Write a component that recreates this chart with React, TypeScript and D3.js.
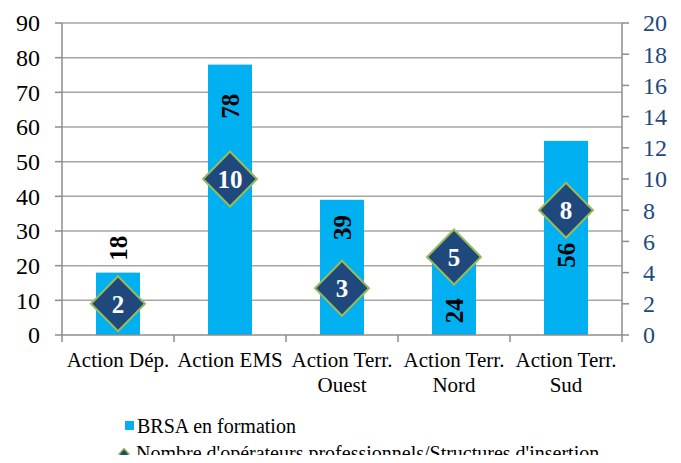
import React from 'react';
import * as d3 from 'd3';

// chart data
const categories = [['Action Dép.'], ['Action EMS'], ['Action Terr.', 'Ouest'], ['Action Terr.', 'Nord'], ['Action Terr.', 'Sud']];
const brsa = [18, 78, 39, 24, 56];
const operateurs = [2, 10, 3, 5, 8];
// where each bar's value label sits, in left-axis units
const labelAt = [25, 66, 31, 7, 23];
const leftTicks = [0, 10, 20, 30, 40, 50, 60, 70, 80, 90];
const rightTicks = [0, 2, 4, 6, 8, 10, 12, 14, 16, 18, 20];
const legendLabels = ['BRSA en formation', "Nombre d'opérateurs professionnels/Structures d'insertion"];

const W = 681;
const H = 463;

function Txt({ x, y, size, anchor = 'start', weight = 'normal', fill = '#000', children }: any) {
  return (
    <text x={x} y={y} fontSize={size} fontWeight={weight} fill={fill} textAnchor={anchor} dy="0.35em">
      {children}
    </text>
  );
}

export default function App() {
  const left = 62, right = 622, top = 23, bottom = 335;

  const x = d3.scaleBand<number>()
    .domain(d3.range(categories.length))
    .range([left, right])
    .paddingInner(0.607)
    .paddingOuter(0.3035);
  const step = (right - left) / categories.length;
  const yL = d3.scaleLinear().domain([0, 90]).range([bottom, top]);
  const yR = d3.scaleLinear().domain([0, 20]).range([bottom, top]);

  const grid = '#a6a6a6';
  const axis = '#8c8c8c';
  const blue = '#00b0f0';
  const navy = '#1f497d';
  const green = '#9bbb59';

  const diamond = (cx: number, cy: number, rx: number, ry: number) =>
    `M${cx},${cy - ry}L${cx + rx},${cy}L${cx},${cy + ry}L${cx - rx},${cy}Z`;

  return (
    <div style={{ margin: -8 }}>
      <svg width={W} height={H} fontFamily="Times New Roman" style={{ display: 'block' }}>
        {/* gridlines */}
        {leftTicks.filter(t => t > 0).map(t => (
          <line key={'g' + t} x1={left} x2={right} y1={yL(t)} y2={yL(t)} stroke={grid} strokeWidth={1.5} />
        ))}

        {/* bars */}
        {brsa.map((v, i) => (
          <rect key={'b' + i} x={x(i)} y={yL(v)} width={x.bandwidth()} height={bottom - yL(v)} fill={blue} />
        ))}

        {/* axes */}
        <line x1={left} x2={left} y1={top} y2={bottom} stroke={axis} strokeWidth={1.5} />
        <line x1={right} x2={right} y1={top} y2={bottom} stroke={axis} strokeWidth={1.5} />
        <line x1={left} x2={right} y1={bottom} y2={bottom} stroke={axis} strokeWidth={1.5} />
        {leftTicks.map(t => (
          <g key={'lt' + t}>
            <line x1={left - 7} x2={left} y1={yL(t)} y2={yL(t)} stroke={axis} strokeWidth={1.5} />
            <Txt x={40} y={yL(t)} size={24} anchor="end">{t}</Txt>
          </g>
        ))}
        {rightTicks.map(t => (
          <g key={'rt' + t}>
            <line x1={right} x2={right + 7} y1={yR(t)} y2={yR(t)} stroke={axis} strokeWidth={1.5} />
            <Txt x={643} y={yR(t)} size={24} fill={navy}>{t}</Txt>
          </g>
        ))}
        {d3.range(categories.length + 1).map(i => (
          <line key={'xt' + i} x1={left + i * step} x2={left + i * step} y1={bottom} y2={bottom + 7} stroke={axis} strokeWidth={1.5} />
        ))}

        {/* category labels */}
        {categories.map((lines, i) => (
          <g key={'c' + i}>
            {lines.map((l, j) => (
              <Txt key={j} x={x(i)! + x.bandwidth() / 2} y={360 + j * 25} size={21} anchor="middle">{l}</Txt>
            ))}
          </g>
        ))}

        {/* bar value labels */}
        {brsa.map((v, i) => {
          const cx = x(i)! + x.bandwidth() / 2;
          const cy = yL(labelAt[i]);
          return (
            <text key={'bl' + i} transform={`translate(${cx},${cy}) rotate(-90)`} fontSize={25}
              fontWeight="bold" textAnchor="middle" dy="0.35em">
              {v}
            </text>
          );
        })}

        {/* diamonds */}
        {operateurs.map((v, i) => {
          const cx = x(i)! + x.bandwidth() / 2;
          const cy = yR(v);
          return (
            <g key={'d' + i}>
              <path d={diamond(cx, cy, 27, 27.5)} fill={navy} stroke={green} strokeWidth={2} />
              <Txt x={cx} y={cy} size={25} weight="bold" anchor="middle" fill="#fff">{v}</Txt>
            </g>
          );
        })}

        {/* legend */}
        <rect x={125} y={421} width={9} height={9} fill={blue} />
        <Txt x={137} y={426} size={20}>{legendLabels[0]}</Txt>
        <path d={diamond(124, 454, 5, 5.5)} fill={navy} stroke={green} strokeWidth={1.5} />
        <Txt x={136} y={453} size={20}>{legendLabels[1]}</Txt>
      </svg>
    </div>
  );
}
